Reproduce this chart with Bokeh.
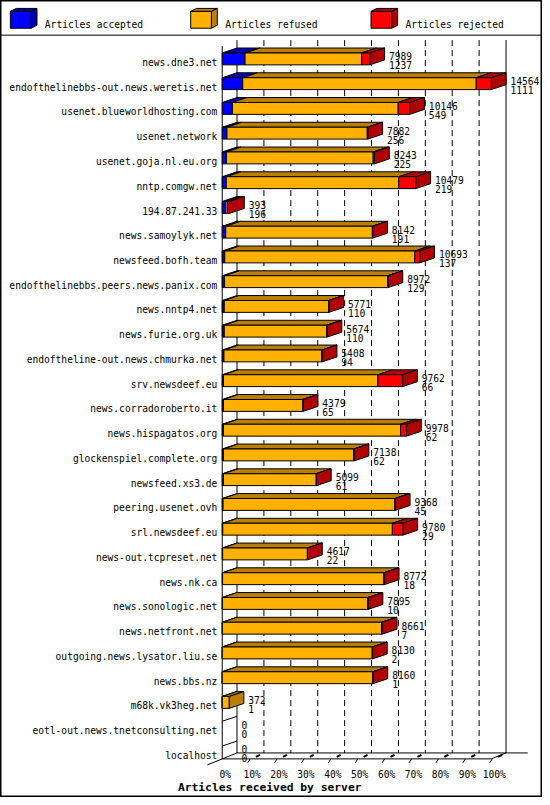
import numpy as np
from bokeh.plotting import figure
from bokeh.models import Range1d, Span
from bokeh.core.properties import value
from bokeh.embed import file_html
from bokeh.resources import INLINE

# ---------------- data ----------------
servers = [
    "news.dne3.net", "endofthelinebbs-out.news.weretis.net", "usenet.blueworldhosting.com",
    "usenet.network", "usenet.goja.nl.eu.org", "nntp.comgw.net", "194.87.241.33",
    "news.samoylyk.net", "newsfeed.bofh.team", "endofthelinebbs.peers.news.panix.com",
    "news.nntp4.net", "news.furie.org.uk", "endoftheline-out.news.chmurka.net",
    "srv.newsdeef.eu", "news.corradoroberto.it", "news.hispagatos.org",
    "glockenspiel.complete.org", "newsfeed.xs3.de", "peering.usenet.ovh", "srl.newsdeef.eu",
    "news-out.tcpreset.net", "news.nk.ca", "news.sonologic.net", "news.netfront.net",
    "outgoing.news.lysator.liu.se", "news.bbs.nz", "m68k.vk3heg.net",
    "eotl-out.news.tnetconsulting.net", "localhost",
]
accepted = [1237, 1111, 549, 256, 225, 219, 196, 191, 137, 129, 110, 110, 94, 66, 65,
            62, 62, 61, 45, 29, 22, 18, 10, 7, 2, 1, 1, 0, 0]
refused = [6312, 12638, 8977, 7596, 7948, 9335, 97, 7936, 10286, 8833, 5651, 5554, 5304,
           8363, 4304, 9596, 7056, 5028, 9293, 9181, 4585, 8734, 7875, 8614, 8118, 8149,
           371, 0, 0]
rejected = [440, 815, 620, 30, 70, 925, 100, 15, 270, 10, 10, 10, 10, 1333, 10, 320, 20,
            10, 30, 570, 10, 20, 10, 40, 10, 10, 0, 0, 0]
total_labels = [7989, 14564, 10146, 7882, 8243, 10479, 393, 8142, 10693, 8972, 5771, 5674,
                5408, 9762, 4379, 9978, 7138, 5099, 9368, 9780, 4617, 8772, 7895, 8661,
                8130, 8160, 372, 0, 0]
tick_values = [0, 10, 20, 30, 40, 50, 60, 70, 80, 90, 100]
tick_labels = ["0%", "10%", "20%", "30%", "40%", "50%", "60%", "70%", "80%", "90%", "100%"]
series_names = ["Articles accepted", "Articles refused", "Articles rejected"]
front_colors = ["#0000FF", "#FFB000", "#FF0000"]
shade_colors = ["#0000B0", "#BA7E00", "#B00000"]
title_text = "Articles received by server"

# ---------------- geometry (reference pixel frame) ----------------
W, H = 542, 797
REF_W, REF_H = 550, 805
PX0, PX100 = 225.0, 498.0        # x pixel of 0% and 100% (front plane)
ROW0, ROW_H = 59.0, 25.0         # y pixel of first row centre, row pitch
PPX = (PX100 - PX0) / 100.0


def X(px):
    return (px - PX0) / PPX


def Y(py):
    return (py - ROW0) / ROW_H


def dxp(px):
    return px / PPX


def dyp(py):
    return py / ROW_H


DEPTH_X = dxp(15)      # 3D depth in percent units
DEPTH_Y = dyp(-5)      # 3D depth in row units (upwards)
HALF = dyp(6)          # half bar height
FONT = value("DejaVu Sans Mono")
FS = "9.6px"

p = figure(width=W, height=H, output_backend="svg", toolbar_location=None,
           x_range=Range1d(X(0), X(REF_W)), y_range=Range1d(Y(REF_H), Y(0)),
           x_axis_type=None, y_axis_type=None, min_border=0)
p.grid.visible = False
p.outline_line_color = "black"
p.outline_line_width = 2
p.background_fill_color = "white"
p.border_fill_color = "white"

n = len(servers)
rows = np.arange(n)
acc = np.array(accepted, float)
ref = np.array(refused, float)
rej = np.array(rejected, float)
vmax = (acc + ref + rej).max()
segs = [acc / vmax * 100, ref / vmax * 100, rej / vmax * 100]

y_front_floor = (n - 1) + dyp(7)
y_back_floor = y_front_floor + dyp(-6)
y_top_back = Y(40)
y_top_front = Y(46)

# ---------------- walls, grid, floor ----------------
grid_x = [v + DEPTH_X for v in tick_values[1:-1]]
p.segment(x0=grid_x, y0=[y_top_back] * len(grid_x), x1=grid_x, y1=[y_back_floor] * len(grid_x),
          line_color="black", line_width=1, line_dash="6 4")
p.segment(x0=[DEPTH_X, 100 + DEPTH_X, 0, 0, DEPTH_X, 100, -DEPTH_X],
          y0=[y_top_back, y_top_back, y_top_front, y_front_floor, y_back_floor, y_front_floor,
              y_front_floor + dyp(6)],
          x1=[DEPTH_X, 100 + DEPTH_X, 0, 100, X(535), 100 + DEPTH_X, DEPTH_X],
          y1=[y_back_floor, y_back_floor, y_front_floor, y_front_floor, y_back_floor,
              y_back_floor, y_back_floor],
          line_color="black", line_width=1)
# ticks on the floor
tx = np.array(tick_values, float)
p.segment(x0=tx[1:] - dxp(1.5), y0=[y_front_floor + dyp(4)] * 10, x1=tx[1:] + dxp(1),
          y1=[y_front_floor] * 10, line_color="black", line_width=1)
p.segment(x0=tx[1:] + dxp(7), y0=[y_front_floor - dyp(2)] * 10, x1=tx[1:] + dxp(11),
          y1=[y_front_floor - dyp(4)] * 10, line_color="black", line_width=2)
p.text(x=tx + dxp(3), y=[y_front_floor + dyp(16)] * len(tx), text=tick_labels,
       text_font=FONT, text_font_size=FS, text_align="center",
       text_baseline="alphabetic", text_color="black")

# ---------------- bars ----------------
top_xs, top_ys, top_c = [], [], []
side_xs, side_ys, side_c = [], [], []
q_l, q_r, q_t, q_b, q_c = [], [], [], [], []
zero_rows = []
for i in range(n):
    start = 0.0
    last = None
    ft, fb = i - HALF, i + HALF
    for k in range(3):
        w = segs[k][i]
        if w <= 0:
            continue
        x0, x1 = start, start + w
        q_l.append(x0); q_r.append(x1); q_t.append(ft); q_b.append(fb)
        q_c.append(front_colors[k])
        top_xs.append([x0, x1, x1 + DEPTH_X, x0 + DEPTH_X])
        top_ys.append([ft, ft, ft + DEPTH_Y, ft + DEPTH_Y])
        top_c.append(shade_colors[k])
        start = x1
        last = k
    if last is None:
        zero_rows.append(i)
        continue
    side_xs.append([start, start, start + DEPTH_X, start + DEPTH_X])
    side_ys.append([ft, fb, fb + DEPTH_Y, ft + DEPTH_Y])
    side_c.append(shade_colors[last])

p.patches(xs=top_xs, ys=top_ys, fill_color=top_c, line_color="black", line_width=1)
p.patches(xs=side_xs, ys=side_ys, fill_color=side_c, line_color="black", line_width=1)
p.quad(left=q_l, right=q_r, top=q_t, bottom=q_b, fill_color=q_c, line_color="black",
       line_width=1)
# degenerate (empty) bars
zr = np.array(zero_rows, float)
p.segment(x0=[0] * len(zr), y0=zr - HALF, x1=[DEPTH_X] * len(zr), y1=zr - HALF + DEPTH_Y,
          line_color="black", line_width=1)

# ---------------- labels ----------------
p.text(x=[X(220)] * n, y=rows + dyp(3.5), text=servers, text_font=FONT,
       text_font_size=FS, text_align="right", text_baseline="alphabetic",
       text_color="black")
ends = segs[0] + segs[1] + segs[2]
num_x = ends + DEPTH_X + dxp(4.5)
p.text(x=num_x, y=rows + dyp(-2.5), text=[str(v) for v in total_labels], text_font=FONT,
       text_font_size=FS, text_baseline="alphabetic", text_color="black")
p.text(x=num_x, y=rows + dyp(6.5), text=[str(v) for v in accepted], text_font=FONT,
       text_font_size=FS, text_baseline="alphabetic", text_color="black")

p.text(x=[X(180)], y=[Y(795)], text=[title_text], text_font=FONT, text_font_size="11.3px",
       text_font_style="bold", text_baseline="alphabetic", text_color="black")

# ---------------- legend (3D cubes) ----------------
p.add_layout(Span(location=Y(35), dimension="width", line_color="black", line_width=1))
leg_left = [10, 193, 376]
for k in range(3):
    l, r = X(leg_left[k]), X(leg_left[k] + 21)
    t, b = Y(11), Y(28)
    ddx, ddy = dxp(6), dyp(-3)
    p.patch(x=[l, r, r + ddx, l + ddx], y=[t, t, t + ddy, t + ddy], fill_color=shade_colors[k],
            line_color="black")
    p.patch(x=[r, r, r + ddx, r + ddx], y=[t, b, b + ddy, t + ddy], fill_color=shade_colors[k],
            line_color="black")
    p.quad(left=[l], right=[r], top=[t], bottom=[b], fill_color=front_colors[k],
           line_color="black")
p.text(x=[X(v + 35) for v in leg_left], y=[Y(24)] * 3, text=series_names, text_font=FONT,
       text_font_size=FS, text_baseline="alphabetic", text_color="black")

open("out.html", "w").write(file_html(p, INLINE))
